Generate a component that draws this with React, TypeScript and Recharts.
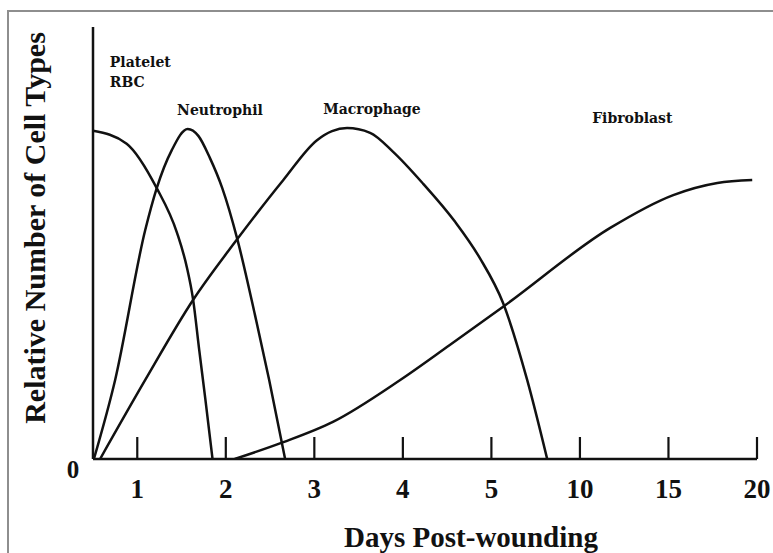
import React from 'react';
import { LineChart, Line, XAxis, YAxis, ReferenceDot } from 'recharts';

// tick labels on the day axis (evenly spaced, although the scale jumps after 5)
const dayTicks = [1, 2, 3, 4, 5, 10, 15, 20];

// days post-wounding / relative number of cells (0 = axis, 1 = top of y axis)
const plateletDays = [0.5, 0.88, 1.22, 1.45, 1.56, 1.63, 1.7, 1.77, 1.85];
const plateletLevel = [0.76, 0.73, 0.627, 0.523, 0.444, 0.37, 0.252, 0.137, 0];

const neutrophilDays = [0.51, 0.75, 1.09, 1.22, 1.39, 1.57, 1.69, 1.82, 1.96, 2.13, 2.33, 2.49, 2.67];
const neutrophilLevel = [0, 0.183, 0.53, 0.627, 0.715, 0.764, 0.748, 0.697, 0.627, 0.509, 0.333, 0.183, 0];

const macrophageDays = [0.58, 1.09, 1.63, 2.13, 2.65, 3.03, 3.2, 3.37, 3.63, 3.89, 4.23, 4.59, 4.87, 5.66, 7.02, 8.15];
const macrophageLevel = [0, 0.183, 0.368, 0.509, 0.646, 0.738, 0.759, 0.766, 0.755, 0.711, 0.637, 0.549, 0.465, 0.361, 0.183, 0];

const fibroblastDays = [2.1, 2.65, 3.21, 3.97, 4.53, 5.78, 11.71, 15.27, 17.76, 19.73];
const fibroblastLevel = [0, 0.039, 0.086, 0.183, 0.264, 0.356, 0.535, 0.611, 0.639, 0.646];

// curve labels: [text, day, level]
const notes: [string, number, number][] = [
  ['Platelet', 0.69, 0.907],
  ['RBC', 0.69, 0.861],
  ['Neutrophil', 1.45, 0.796],
  ['Macrophage', 3.1, 0.798],
  ['Fibroblast', 10.69, 0.778],
];

// days 1..5 get one slot each, after that one slot per 5 days
const toSlot = (day: number) => (day <= 5 ? day : 5 + (day - 5) / 5);

const build = (days: number[], levels: number[]) =>
  days.map((d, i) => ({ slot: toSlot(d), level: levels[i] }));

const serif = "'Liberation Serif', 'Times New Roman', serif";
const ink = '#111';

const XTick = ({ x, y, payload }: any) => {
  const idx = dayTicks.findIndex((d) => toSlot(d) === payload.value);
  return (
    <g>
      <line x1={x} x2={x} y1={y} y2={y - 22} stroke={ink} strokeWidth={2.2} />
      <text x={x} y={y + 39} textAnchor="middle" fontFamily={serif} fontWeight="bold" fontSize={27} fill={ink}>
        {idx >= 0 ? dayTicks[idx] : ''}
      </text>
    </g>
  );
};

const YTick = ({ x, y }: any) => (
  <text x={x - 20} y={y + 19} textAnchor="middle" fontFamily={serif} fontWeight="bold" fontSize={25} fill={ink}>
    0
  </text>
);

const xTitle = (props: any) => {
  const vb = props.viewBox;
  return (
    <text x={vb.x + 378} y={vb.y + 88} textAnchor="middle" fontFamily={serif} fontWeight="bold" fontSize={29} fill={ink}>
      Days Post-wounding
    </text>
  );
};

const yTitle = (props: any) => {
  const vb = props.viewBox;
  const cx = vb.x + 45;
  const cy = vb.y + 201;
  return (
    <text
      x={cx}
      y={cy}
      transform={`rotate(-90, ${cx}, ${cy})`}
      textAnchor="middle"
      fontFamily={serif}
      fontWeight="bold"
      fontSize={30}
      fill={ink}
    >
      Relative Number of Cell Types
    </text>
  );
};

const series = [
  { name: 'Platelet/RBC', data: build(plateletDays, plateletLevel) },
  { name: 'Neutrophil', data: build(neutrophilDays, neutrophilLevel) },
  { name: 'Macrophage', data: build(macrophageDays, macrophageLevel) },
  { name: 'Fibroblast', data: build(fibroblastDays, fibroblastLevel) },
];

export default function App() {
  return (
    <div style={{ position: 'absolute', left: 0, top: 0, width: 773, height: 553, overflow: 'hidden', background: '#fff' }}>
      <div
        style={{
          position: 'absolute',
          left: 7,
          top: 10,
          width: 840,
          height: 640,
          border: '2px solid #8e8e8e',
        }}
      />
      <div style={{ position: 'absolute', left: 0, top: 0 }}>
        <LineChart width={773} height={553} margin={{ top: 27, right: 16, bottom: 0, left: 0 }}>
          <XAxis
            type="number"
            dataKey="slot"
            domain={[0.5, 8]}
            ticks={dayTicks.map(toSlot)}
            allowDataOverflow
            height={94}
            axisLine={{ stroke: ink, strokeWidth: 2.5 }}
            tickLine={false}
            tickSize={0}
            tickMargin={0}
            tick={<XTick />}
            interval={0}
            label={xTitle}
          />
          <YAxis
            type="number"
            domain={[0, 1]}
            ticks={[0]}
            allowDataOverflow
            width={93}
            axisLine={{ stroke: ink, strokeWidth: 2.5 }}
            tickLine={false}
            tickSize={0}
            tickMargin={0}
            tick={<YTick />}
            label={yTitle}
          />
          {series.map((s) => (
            <Line
              key={s.name}
              data={s.data}
              dataKey="level"
              name={s.name}
              type="monotone"
              stroke={ink}
              strokeWidth={2.5}
              dot={false}
              activeDot={false}
              isAnimationActive={false}
            />
          ))}
          {notes.map(([text, day, level]) => (
            <ReferenceDot
              key={text}
              x={toSlot(day)}
              y={level}
              r={1}
              ifOverflow="visible"
              shape={(p: any) => (
                <text
                  x={p.cx}
                  y={p.cy}
                  fontFamily="'DejaVu Serif', serif"
                  fontWeight="bold"
                  fontSize={14}
                  fill={ink}
                >
                  {text}
                </text>
              )}
            />
          ))}
        </LineChart>
      </div>
    </div>
  );
}
